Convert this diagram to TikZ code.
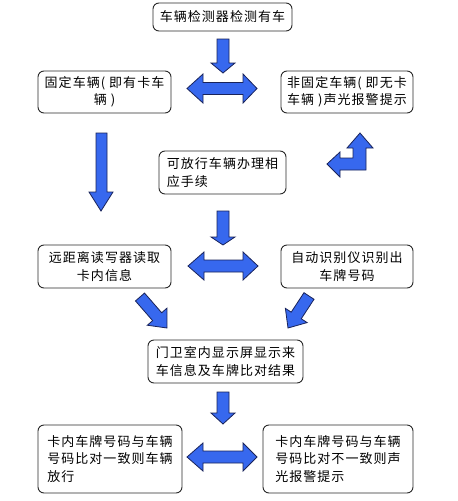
\documentclass[tikz,border=0pt]{standalone}
\usepackage{fontspec}
\setmainfont{Noto Sans CJK SC}[LetterSpace=8]
\usetikzlibrary{calc}
\definecolor{arrowfill}{RGB}{55,104,238}
\definecolor{arrowline}{RGB}{25,35,90}
\definecolor{boxline}{RGB}{40,40,40}
\newcommand\diagarrow[5]{%
  \coordinate (bH) at ($(#2)!#5!(#1)$);
  \draw[blockarrow] ($(#1)!#3!90:(#2)$) -- ($(bH)!#3!-90:(#1)$) -- ($(bH)!#4!-90:(#1)$) -- (#2)
    -- ($(bH)!#4!90:(#1)$) -- ($(bH)!#3!90:(#1)$) -- ($(#1)!#3!-90:(#2)$) -- cycle;
}
\begin{document}
\begin{tikzpicture}[x=1pt,y=-1pt,
  stepbox/.style={draw=boxline,line width=0.9pt,rounded corners=6pt,fill=white,inner sep=0pt,
    font=\fontsize{13}{17.5}\selectfont},
  blockarrow/.style={fill=arrowfill,draw=arrowline,line width=0.8pt,line join=miter}]
\useasboundingbox (0,0) rectangle (458,501);
\fill[white] (0,0) rectangle (458,501);

% boxes
\node[stepbox,minimum width=139pt,minimum height=28pt,align=center] (b1) at (222.5,17) {车辆检测器检测有车};
\node[stepbox,minimum width=133pt,minimum height=42pt,align=center] (b2) at (104.5,92) {固定车辆( 即有卡车\\辆 )};
\node[stepbox,minimum width=132pt,minimum height=42pt,align=center] (b3) at (347,92) {非固定车辆( 即无卡\\车辆 )声光报警提示};
\node[stepbox,minimum width=127pt,minimum height=43pt,align=left] (b4) at (222.5,172.5) {可放行车辆办理相\\应手续};
\node[stepbox,minimum width=133pt,minimum height=43pt,align=center] (b5) at (104.5,266.5) {远距离读写器读取\\卡内信息};
\node[stepbox,minimum width=132pt,minimum height=43pt,align=center] (b6) at (347,266.5) {自动识别仪识别出\\车牌号码};
\node[stepbox,minimum width=155pt,minimum height=43pt,align=center] (b7) at (225.5,361.5) {门卫室内显示屏显示来\\车信息及车牌比对结果};
\node[stepbox,minimum width=144pt,minimum height=68pt,align=left] (b8) at (110,459) {卡内车牌号码与车辆\\号码比对一致则车辆\\放行};
\node[stepbox,minimum width=150pt,minimum height=68pt,align=left] (b9) at (338,459) {卡内车牌号码与车辆\\号码比对不一致则声\\光报警提示};

% down arrow under b1
\draw[blockarrow] (217,39) -- (229,39) -- (229,63) -- (235,63) -- (223,73) -- (211,63) -- (217,63) -- cycle;
% double arrow between b2 and b3
\draw[blockarrow] (187,88.5) -- (203,74) -- (203,82.5) -- (243,82.5) -- (243,74) -- (257,88.5)
  -- (243,103) -- (243,94.5) -- (203,94.5) -- (203,103) -- cycle;
% long down arrow under b2
\draw[blockarrow] (96,133) -- (107,133) -- (107,192) -- (113,192) -- (101,211) -- (89,192) -- (96,192) -- cycle;
% bent arrow (left-up)
\draw[blockarrow] (360,133) -- (373,148) -- (366,148) -- (366,170) -- (340,170) -- (340,177)
  -- (327,164) -- (340,152) -- (340,158) -- (353,158) -- (353,148) -- (347,148) -- cycle;
% down arrow under b4
\draw[blockarrow] (217,211) -- (229,211) -- (229,237) -- (235,237) -- (223,245) -- (211,237) -- (217,237) -- cycle;
% double arrow between b5 and b6
\draw[blockarrow] (188,266) -- (204,252) -- (204,260) -- (243,260) -- (243,252) -- (258,266)
  -- (243,280) -- (243,272) -- (204,272) -- (204,280) -- cycle;
% diagonal arrows
\coordinate (l1) at (140,297);
\coordinate (l2) at (167,328);
\coordinate (r1) at (309,296);
\coordinate (r2) at (288,328);
\diagarrow{l1}{l2}{6pt}{13pt}{15pt}
\diagarrow{r1}{r2}{6pt}{13pt}{15pt}
% down arrow under b7
\draw[blockarrow] (217,392) -- (229,392) -- (229,413) -- (235,413) -- (223,424) -- (211,413) -- (217,413) -- cycle;
% double arrow between b8 and b9
\draw[blockarrow] (187,457) -- (203,443) -- (203,451) -- (243,451) -- (243,443) -- (257,457)
  -- (243,471) -- (243,463) -- (203,463) -- (203,471) -- cycle;
\end{tikzpicture}
\end{document}
